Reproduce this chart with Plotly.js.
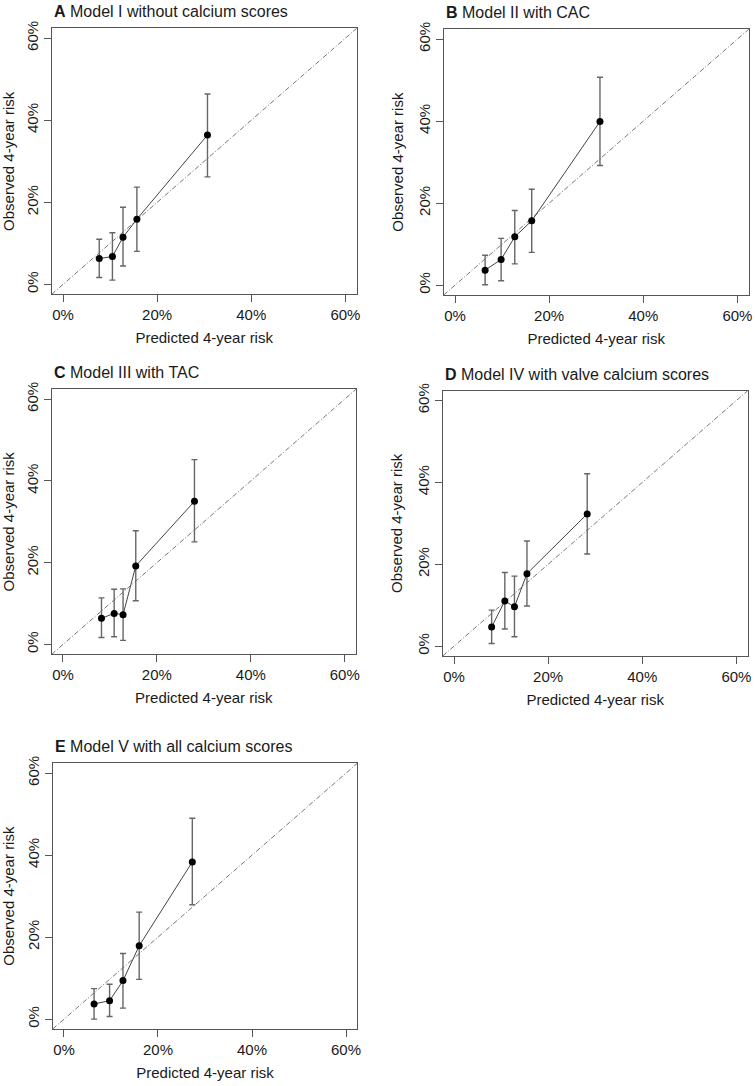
<!DOCTYPE html>
<html>
<head>
<meta charset="utf-8">
<script src="https://cdn.plot.ly/plotly-3.0.1.min.js"></script>
<style>html,body{margin:0;padding:0;background:#fff;}#chart{width:755px;height:1086px;}</style>
</head>
<body>
<div id="chart"></div>
<script>
// Panel titles
const panelLetters = ["A", "B", "C", "D", "E"];
const panelNames = ["Model I without calcium scores", "Model II with CAC", "Model III with TAC", "Model IV with valve calcium scores", "Model V with all calcium scores"];

// Predicted (x, %) and observed (y, %) 4-year risk with 95% CI, per panel
const predA = [7.7, 10.5, 12.75, 15.7, 30.7];
const obsA = [6.3, 6.8, 11.5, 15.9, 36.4];
const upA = [11.0, 12.6, 18.8, 23.7, 46.4];
const loA = [1.7, 1.05, 4.5, 8.05, 26.2];

const predB = [6.4, 9.8, 12.7, 16.3, 30.8];
const obsB = [3.65, 6.26, 11.8, 15.7, 39.9];
const upB = [7.3, 11.4, 18.2, 23.4, 50.7];
const loB = [0.1, 1.07, 5.2, 8.0, 29.2];

const predC = [8.2, 10.9, 12.8, 15.5, 28.0];
const obsC = [6.4, 7.6, 7.3, 19.2, 35.0];
const upC = [11.4, 13.5, 13.6, 27.8, 45.2];
const loC = [1.7, 1.9, 1.0, 10.7, 25.1];

const predD = [8.0, 10.8, 12.85, 15.5, 28.3];
const obsD = [4.7, 11.05, 9.6, 17.7, 32.3];
const upD = [8.8, 18.0, 17.1, 25.7, 42.1];
const loD = [0.65, 4.2, 2.3, 9.8, 22.5];

const predE = [6.4, 9.7, 12.55, 16.0, 27.3];
const obsE = [3.7, 4.5, 9.4, 17.9, 38.35];
const upE = [7.45, 8.5, 16.0, 26.1, 49.0];
const loE = [0.0, 0.65, 2.7, 9.7, 27.9];

const tickValues = [0, 20, 40, 60];
const tickLabels = ["0%", "20%", "40%", "60%"];
const xTitle = "Predicted 4-year risk";
const yTitle = "Observed 4-year risk";

const panels = [
  {pred: predA, obs: obsA, up: upA, lo: loA},
  {pred: predB, obs: obsB, up: upB, lo: loB},
  {pred: predC, obs: obsC, up: upC, lo: loC},
  {pred: predD, obs: obsD, up: upD, lo: loD},
  {pred: predE, obs: obsE, up: upE, lo: loE}
];

// Plot box positions (px) in the 755x1086 figure: [left, right, top, bottom]
const W = 755, H = 1086;
const boxes = [
  [51.7, 356.7, 28.3, 294.3],
  [443.7, 748.7, 29.3, 295.0],
  [51.7, 356.0, 389.3, 654.3],
  [442.7, 747.7, 390.7, 656.0],
  [52.7, 357.3, 763.3, 1029.0]
];

const FONT = "Liberation Sans, Arial, Helvetica, sans-serif";
const rng = [-2.4, 62.4];
const traces = [];
const layout = {
  width: W, height: H,
  margin: {l: 0, r: 0, t: 0, b: 0},
  paper_bgcolor: "#fff", plot_bgcolor: "#fff",
  showlegend: false,
  font: {family: FONT, color: "#1a1a1a", size: 15},
  shapes: [], annotations: []
};

panels.forEach((p, i) => {
  const n = i + 1;
  const xa = n === 1 ? "x" : "x" + n;
  const ya = n === 1 ? "y" : "y" + n;
  const b = boxes[i];
  traces.push({
    type: "scatter", mode: "lines+markers",
    x: p.pred, y: p.obs, xaxis: xa, yaxis: ya,
    line: {color: "#444", width: 1},
    marker: {color: "#000", size: 7},
    error_y: {
      type: "data", symmetric: false,
      array: p.up.map((u, k) => u - p.obs[k]),
      arrayminus: p.obs.map((o, k) => o - p.lo[k]),
      color: "#666", thickness: 1.4, width: 3
    },
    hoverinfo: "skip", cliponaxis: false
  });
  const axCommon = {
    range: rng, autorange: false, fixedrange: true,
    tickmode: "array", tickvals: tickValues, ticktext: tickLabels,
    ticks: "outside", ticklen: 7, tickwidth: 1, tickcolor: "#555",
    showline: true, mirror: true, linecolor: "#555", linewidth: 1,
    showgrid: false, zeroline: false,
    tickfont: {family: FONT, size: 15, color: "#1a1a1a"}
  };
  layout["xaxis" + (n === 1 ? "" : n)] = Object.assign({}, axCommon, {
    domain: [b[0] / W, b[1] / W], anchor: ya,
    title: {text: xTitle, font: {family: FONT, size: 15, color: "#1a1a1a"}, standoff: 10}
  });
  layout["yaxis" + (n === 1 ? "" : n)] = Object.assign({}, axCommon, {
    domain: [1 - b[3] / H, 1 - b[2] / H], anchor: xa,
    tickangle: -90,
    title: {text: yTitle, font: {family: FONT, size: 15, color: "#1a1a1a"}, standoff: 8}
  });
  // identity reference line across the plot box
  layout.shapes.push({
    type: "line", xref: xa + " domain", yref: ya + " domain",
    x0: 0, y0: 0, x1: 1, y1: 1,
    line: {color: "#777", width: 1, dash: "5px,2px,1px,2px"}, layer: "below"
  });
  layout.annotations.push({
    xref: xa + " domain", yref: ya + " domain",
    x: 0, y: 1, xanchor: "left", yanchor: "bottom", yshift: 6,
    showarrow: false,
    text: "<b>" + panelLetters[i] + "</b> " + panelNames[i],
    font: {family: FONT, size: 16, color: "#1a1a1a"}
  });
});

Plotly.newPlot("chart", traces, layout, {staticPlot: true, displayModeBar: false});
</script>
</body>
</html>
